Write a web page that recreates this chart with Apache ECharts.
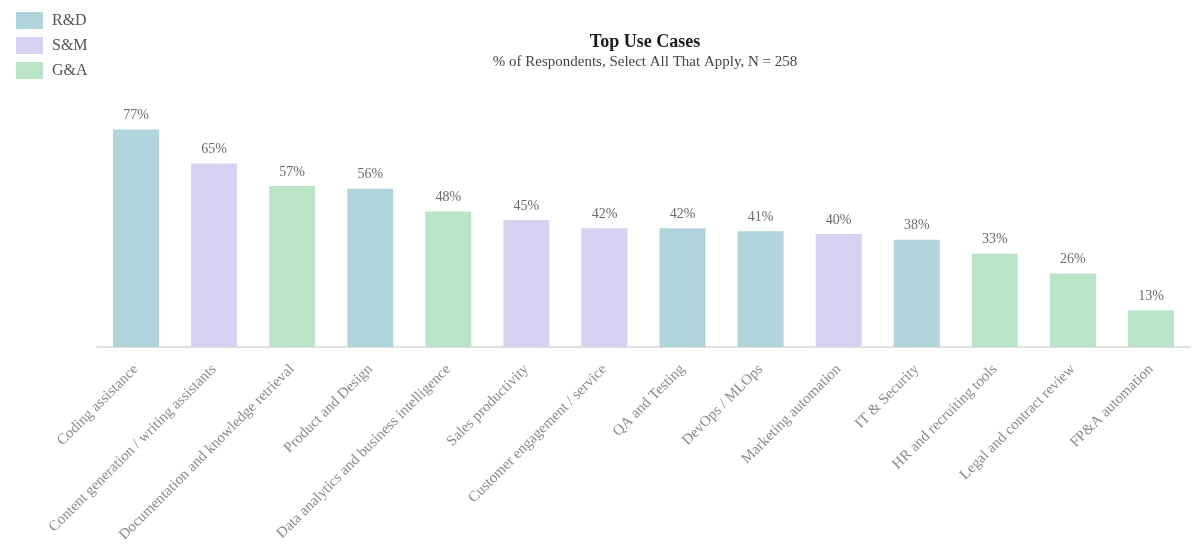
<!DOCTYPE html>
<html>
<head>
<meta charset="utf-8">
<script src="https://cdn.jsdelivr.net/npm/echarts@6/dist/echarts.min.js"></script>
<style>html,body{margin:0;padding:0;background:#fff}#c{width:1200px;height:555px}</style>
</head>
<body>
<div id="c"></div>
<script>
const categories = ["Coding assistance","Content generation / writing assistants","Documentation and knowledge retrieval","Product and Design","Data analytics and business intelligence","Sales productivity","Customer engagement / service","QA and Testing","DevOps / MLOps","Marketing automation","IT & Security","HR and recruiting tools","Legal and contract review","FP&A automation"];
const values = [77,65,57,56,48,45,42,42,41,40,38,33,26,13];
const groups = ["R&D","S&M","G&A","R&D","G&A","S&M","S&M","R&D","R&D","S&M","R&D","G&A","G&A","G&A"];
const groupNames = ["R&D","S&M","G&A"];
const groupColors = {"R&D":"#afd4dc","S&M":"#d5d3f1","G&A":"#b9e4c6"};

const serif = "'Liberation Serif', 'DejaVu Serif', serif";
const series = groupNames.map(g => ({
  name: g,
  type: 'bar',
  stack: 'all',
  barWidth: 46,
  itemStyle: { color: groupColors[g] },
  label: { show: true, position: 'top', formatter: '{c}%', color: '#6a6a6a', fontFamily: serif, fontSize: 14, distance: 7 },
  data: values.map((v, i) => groups[i] === g ? v : '-')
}));

const chart = echarts.init(document.getElementById('c'));
chart.setOption({
  animation: false,
  title: {
    text: 'Top Use Cases',
    subtext: '% of Respondents, Select All That Apply, N = 258',
    left: 640, textAlign: 'center', top: 28,
    itemGap: 4,
    textStyle: { fontFamily: serif, fontSize: 18, fontWeight: 'bold', color: '#1a1a1a' },
    subtextStyle: { fontFamily: serif, fontSize: 15, color: '#444' }
  },
  legend: {
    orient: 'vertical', left: 11, top: 7,
    itemWidth: 27, itemHeight: 17, itemGap: 8,
    icon: 'rect',
    textStyle: { fontFamily: serif, fontSize: 16, color: '#555', padding: [0,0,0,4] },
    data: groupNames
  },
  grid: { left: 97, right: 10, top: 121, bottom: 208 },
  xAxis: {
    type: 'category', data: categories,
    axisLine: { lineStyle: { color: '#e0e0e0', width: 2 } },
    axisTick: { show: false },
    axisLabel: { rotate: 45, interval: 0, margin: 20, color: '#8a8a8a', fontFamily: serif, fontSize: 15 }
  },
  yAxis: { type: 'value', min: 0, max: 80, show: false, splitLine: { show: false } },
  series: series
});
</script>
</body>
</html>
